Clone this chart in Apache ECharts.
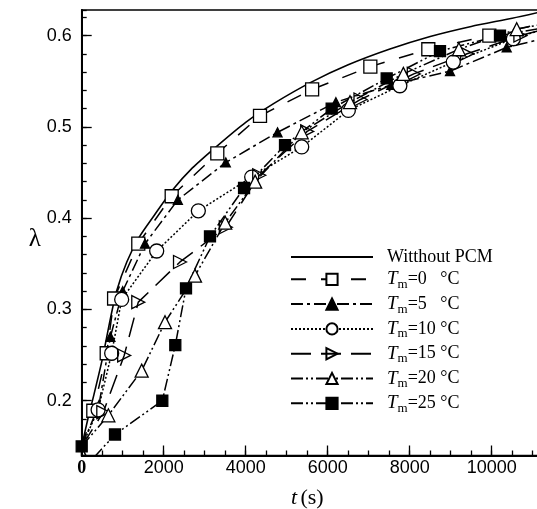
<!DOCTYPE html>
<html>
<head>
<meta charset="utf-8">
<script src="https://cdn.jsdelivr.net/npm/echarts@6/dist/echarts.min.js"></script>
<style>
html,body{margin:0;padding:0;background:#fff;}
#chart{width:537px;height:509px;}
</style>
</head>
<body>
<div id="chart"></div>
<script>
// ---- data (t in s, lambda) ----
const seriesNames = ['Witthout PCM', 'Tm=0 °C', 'Tm=5 °C', 'Tm=10 °C', 'Tm=15 °C', 'Tm=20 °C', 'Tm=25 °C'];
const xTickLabels = [0, 2000, 4000, 6000, 8000, 10000];
const yTickLabels = [0.2, 0.3, 0.4, 0.5, 0.6];

const noPcm = [[0,0.15],[150,0.18],[300,0.207],[500,0.245],[700,0.29],[850,0.32],[1100,0.352],[1400,0.379],[1800,0.405],[2200,0.43],[2700,0.455],[3300,0.479],[4000,0.505],[4700,0.526],[5600,0.549],[6500,0.568],[7500,0.585],[8500,0.599],[9500,0.61],[10500,0.619],[11200,0.626]];
const tm0  = [[0,0.15],[283,0.189],[610,0.252],[790,0.312],[1380,0.372],[2195,0.424],[3307,0.471],[4349,0.512],[5620,0.541],[7040,0.566],[8454,0.585],[9942,0.600],[11200,0.613]];
const tm5  = [[0,0.15],[420,0.195],[700,0.27],[1000,0.32],[1544,0.372],[2345,0.42],[3515,0.461],[4776,0.494],[6200,0.527],[7550,0.546],[8983,0.561],[10366,0.587],[11200,0.596]];
const tm10 = [[0,0.15],[400,0.19],[731,0.252],[975,0.311],[1829,0.364],[2845,0.408],[4146,0.445],[5366,0.478],[6503,0.518],[7760,0.545],[9063,0.571],[10527,0.5965],[11200,0.606]];
const tm15 = [[0,0.15],[527,0.1875],[1036,0.2496],[1380,0.308],[2398,0.352],[3515,0.39],[4330,0.447],[5500,0.495],[6800,0.530],[8100,0.558],[9400,0.580],[10700,0.600],[11200,0.606]];
const tm20 = [[0,0.15],[650,0.184],[1463,0.233],[2032,0.286],[2763,0.337],[3500,0.395],[4230,0.44],[5366,0.494],[6544,0.527],[7845,0.558],[9200,0.585],[10610,0.607],[11200,0.612]];
const tm25 = [[0,0.15],[180,0.132],[812,0.163],[1966,0.200],[2283,0.261],[2544,0.323],[3129,0.380],[3960,0.433],[4959,0.480],[6097,0.520],[7439,0.553],[8739,0.583],[10202,0.600],[11200,0.608]];
// points of each series drawn without a marker (index list)
const tm25Hidden = [1];

const XMAX = 11200, YMIN = 0.14, YMAX = 0.628;

const serif = 'Liberation Serif';
const sans = 'Liberation Sans';

const chart = echarts.init(document.getElementById('chart'), null, {renderer: 'canvas'});

function lineSeries(name, data, dash, symbol, size, fill, rotate, startSymbol, hidden) {
  hidden = hidden || [];
  const d = data.map((p, i) => {
    const item = {value: p};
    if ((i === 0 && !startSymbol) || i === data.length - 1 || hidden.indexOf(i) >= 0) item.symbol = 'none';
    return item;
  });
  return {
    name: name, type: 'line', data: d,
    xAxisIndex: 0, yAxisIndex: 0,
    symbol: symbol, symbolSize: size, symbolRotate: rotate || 0,
    showAllSymbol: true,
    lineStyle: {color: '#000', width: 1.5, type: dash},
    itemStyle: {color: fill, borderColor: '#000', borderWidth: 1.3},
    emphasis: {disabled: true},
    animation: false, z: 3
  };
}

const option = {
  animation: false,
  backgroundColor: '#fff',
  grid: {left: 81.7, top: 10, width: 459.2, height: 445.5, show: true, borderColor: '#000', borderWidth: 1.5, containLabel: false, outerBoundsMode: 'none'},
  legend: {
    orient: 'vertical', left: 290, top: 248, padding: 0,
    itemWidth: 82, itemHeight: 14, itemGap: 1.8,
    data: seriesNames,
    formatter: function (name) {
      if (name === seriesNames[0]) return '{n|Witthout PCM}';
      const m = name.match(/Tm=(\d+)/);
      const v = m[1];
      const sp = v.length === 1 ? '   ' : ' ';
      return '{it|T}{sub|m}{n|=' + v + sp + '°C}';
    },
    textStyle: {
      fontFamily: serif, fontSize: 18, color: '#000', padding: [0, 0, 0, 9],
      rich: {
        n: {fontFamily: serif, fontSize: 18, color: '#000', lineHeight: 24},
        it: {fontFamily: serif, fontSize: 19, fontStyle: 'italic', color: '#000', lineHeight: 24},
        sub: {fontFamily: serif, fontSize: 13, color: '#000', lineHeight: 12, padding: [10, 0, 0, 0]}
      }
    }
  },
  xAxis: [
    {
      type: 'value', min: 0, max: XMAX, interval: 500, position: 'bottom',
      name: '{it|t} {n|(s)}', nameLocation: 'middle', nameGap: 32,
      nameTextStyle: {padding: [0, 8, 0, 0], rich: {
        it: {fontFamily: serif, fontStyle: 'italic', fontSize: 22, color: '#000'},
        n: {fontFamily: serif, fontSize: 22, color: '#000'}
      }},
      axisLine: {show: true, onZero: false, lineStyle: {color: '#000', width: 2}},
      axisTick: {show: true, inside: true, length: 5, lineStyle: {color: '#000', width: 1.3}},
      axisLabel: {
        show: true, interval: 0, margin: 4, color: '#000', fontFamily: sans, fontSize: 18,
        formatter: function (v) {
          if (v === 0) return '{z|0}';
          if (xTickLabels.indexOf(v) >= 0) return String(v);
          return '';
        },
        rich: {z: {fontFamily: serif, fontWeight: 'bold', fontSize: 18, color: '#000'}}
      },
      splitLine: {show: false}
    },
    {
      type: 'value', min: 0, max: XMAX, interval: 2000, position: 'bottom',
      axisLine: {show: false},
      axisTick: {show: true, inside: true, length: 10, lineStyle: {color: '#000', width: 1.3}},
      axisLabel: {show: false},
      splitLine: {show: false}
    }
  ],
  yAxis: [
    {
      type: 'value', min: YMIN, max: YMAX, interval: 0.02, position: 'left',
      name: 'λ', nameLocation: 'middle', nameGap: 40, nameRotate: 0,
      nameTextStyle: {fontFamily: serif, fontSize: 25, color: '#000', verticalAlign: 'top', lineHeight: 14},
      axisLine: {show: true, onZero: false, lineStyle: {color: '#000', width: 2}},
      axisTick: {show: true, inside: true, length: 5, lineStyle: {color: '#000', width: 1.3}},
      axisLabel: {
        show: true, interval: 0, margin: 10, color: '#000', fontFamily: sans, fontSize: 18,
        formatter: function (v) {
          for (const y of yTickLabels) { if (Math.abs(v - y) < 1e-6) return y.toFixed(1); }
          return '';
        }
      },
      splitLine: {show: false}
    },
    {
      type: 'value', min: YMIN, max: YMAX, position: 'left',
      axisLine: {show: false},
      axisTick: {show: true, inside: true, length: 10, customValues: yTickLabels, lineStyle: {color: '#000', width: 1.3}},
      axisLabel: {show: false, customValues: yTickLabels},
      splitLine: {show: false}
    }
  ],
  series: [
    {
      name: seriesNames[0], type: 'line', data: noPcm, smooth: 0.25,
      symbol: 'circle', symbolSize: 1, showSymbol: false,
      lineStyle: {color: '#000', width: 1.6, type: 'solid'},
      itemStyle: {color: 'rgba(0,0,0,0)', borderColor: 'rgba(0,0,0,0)', borderWidth: 0},
      emphasis: {disabled: true}, z: 3
    },
    lineSeries(seriesNames[1], tm0, [15, 15], 'rect', 13, '#fff', 0, false),
    lineSeries(seriesNames[2], tm5, [12, 4, 3, 4], 'triangle', 9, '#000', 0, true),
    lineSeries(seriesNames[3], tm10, [2, 2], 'circle', 14, '#fff', 0, false),
    lineSeries(seriesNames[4], tm15, [20, 10], 'triangle', 13, 'rgba(255,255,255,0)', -90, false),
    lineSeries(seriesNames[5], tm20, [12, 3, 2, 3, 2, 3], 'triangle', 13, '#fff', 0, false),
    lineSeries(seriesNames[6], tm25, [12, 3, 2, 3, 2, 3], 'rect', 11, '#000', 0, true, tm25Hidden)
  ]
};
chart.setOption(option);
</script>
</body>
</html>
